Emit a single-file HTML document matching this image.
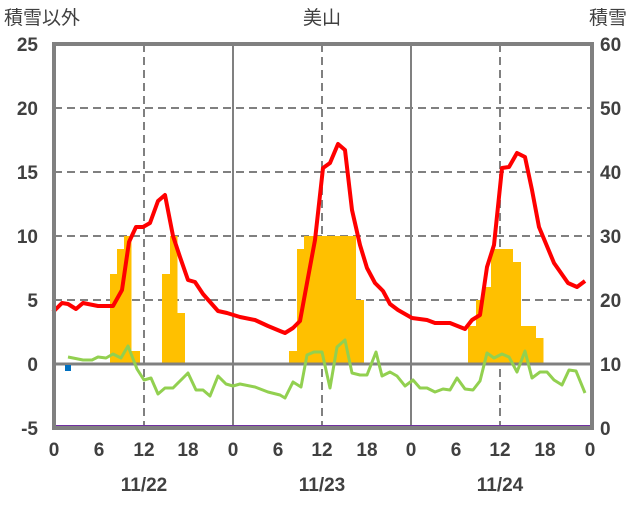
<!DOCTYPE html>
<html><head><meta charset="utf-8"><style>body{margin:0;background:#fff}svg text{font-family:"Liberation Sans","Noto Sans CJK JP",sans-serif;fill:#404040}</style></head><body>
<svg width="636" height="501" xmlns="http://www.w3.org/2000/svg">
<g stroke="#808080" stroke-width="2" stroke-dasharray="8,5">
<line x1="54" y1="108" x2="592" y2="108"/><line x1="54" y1="172" x2="592" y2="172"/><line x1="54" y1="236" x2="592" y2="236"/><line x1="54" y1="300" x2="592" y2="300"/>
<line x1="144" y1="44" x2="144" y2="428"/><line x1="322" y1="44" x2="322" y2="428"/><line x1="500" y1="44" x2="500" y2="428"/>
</g>
<g fill="#FFC000">
<rect x="110" y="274" width="7.5" height="90"/><rect x="117" y="249" width="7.5" height="115"/><rect x="124" y="236" width="7.5" height="128"/><rect x="131" y="351" width="9" height="13"/>
<rect x="162" y="274" width="8" height="90"/><rect x="170" y="236" width="7.5" height="128"/><rect x="177" y="313" width="8" height="51"/>
<rect x="289" y="351" width="8" height="13"/><rect x="297" y="249" width="7.5" height="115"/><rect x="304" y="236" width="52" height="128"/><rect x="356" y="300" width="8" height="64"/>
<rect x="468" y="326" width="8" height="38"/><rect x="476" y="300" width="7.5" height="64"/><rect x="483" y="287" width="8" height="77"/><rect x="491" y="249" width="22" height="115"/><rect x="513" y="262" width="8" height="102"/><rect x="521" y="326" width="15" height="38"/><rect x="536" y="338" width="7.5" height="26"/>
</g>
<g stroke="#808080" stroke-width="2"><line x1="233" y1="44" x2="233" y2="428"/><line x1="411" y1="44" x2="411" y2="428"/></g>
<line x1="54" y1="364" x2="592" y2="364" stroke="#808080" stroke-width="3"/>
<rect x="65" y="365" width="6" height="6" fill="#0070C0"/>
<polyline fill="none" stroke="#92D050" stroke-width="3" stroke-linejoin="round" points="68,357 83,360 92,360 98,357 106,358 113,354 121,358 128,346 137,369 144,380 151,378 158,394 165,388 173,388 180,381 188,373 196,390 203,390 210,396 218,376 226,384 233,386 240,384 255,387 268,392 280,395 285,398 293,382 301,387 307,355 314,352 322,352 330,388 337,347 345,340 352,373 360,375 367,375 376,352 382,376 390,372 397,376 405,386 413,380 420,388 427,388 435,392 443,389 450,390 457,378 465,389 473,390 480,381 487,353 494,358 502,354 509,357 517,372 525,351 532,378 540,372 547,372 554,380 562,385 569,370 576,371 585,393"/>
<polyline fill="none" stroke="#FF0000" stroke-width="4" stroke-linejoin="round" points="53,312 62,303 68,304 76,309 83,303 98,306 113,306 122,290 129,242 136,227 143,227 150,223 158,201 165,195 173,236 180,257 188,280 195,282 203,294 218,311 227,313 240,317 255,320 268,326 280,331 285,333 293,328 300,321 307,283 315,240 323,168 330,163 338,144 345,150 352,210 360,245 367,268 375,283 383,291 390,304 398,310 412,318 427,320 435,323 450,323 465,329 472,320 480,315 487,267 494,245 502,168 509,167 517,153 525,157 532,190 539,227 554,263 568,283 577,287 585,281"/>
<line x1="54" y1="426.5" x2="592" y2="426.5" stroke="#7030A0" stroke-width="3"/>
<rect x="54" y="44" width="538" height="384" fill="none" stroke="#808080" stroke-width="4"/>
<g font-size="19" text-anchor="end" font-weight="bold">
<text x="38" y="51">25</text><text x="38" y="115">20</text><text x="38" y="179">15</text><text x="38" y="243">10</text><text x="38" y="307">5</text><text x="38" y="371">0</text><text x="38" y="435">-5</text>
</g>
<g font-size="19" text-anchor="start" font-weight="bold">
<text x="600" y="51">60</text><text x="600" y="115">50</text><text x="600" y="179">40</text><text x="600" y="243">30</text><text x="600" y="307">20</text><text x="600" y="371">10</text><text x="600" y="435">0</text>
</g>
<g font-size="19" text-anchor="middle" font-weight="bold">
<text x="54" y="456">0</text><text x="99" y="456">6</text><text x="144" y="456">12</text><text x="188" y="456">18</text><text x="233" y="456">0</text><text x="278" y="456">6</text><text x="322" y="456">12</text><text x="367" y="456">18</text><text x="411" y="456">0</text><text x="456" y="456">6</text><text x="500" y="456">12</text><text x="545" y="456">18</text><text x="590" y="456">0</text>
<text x="144" y="491">11/22</text><text x="322" y="491">11/23</text><text x="500" y="491">11/24</text>
</g>
<text x="322" y="24" font-size="19" text-anchor="middle">美山</text>
<text x="4" y="24" font-size="19">積雪以外</text>
<text x="589" y="24" font-size="19">積雪</text>
</svg>
</body></html>
